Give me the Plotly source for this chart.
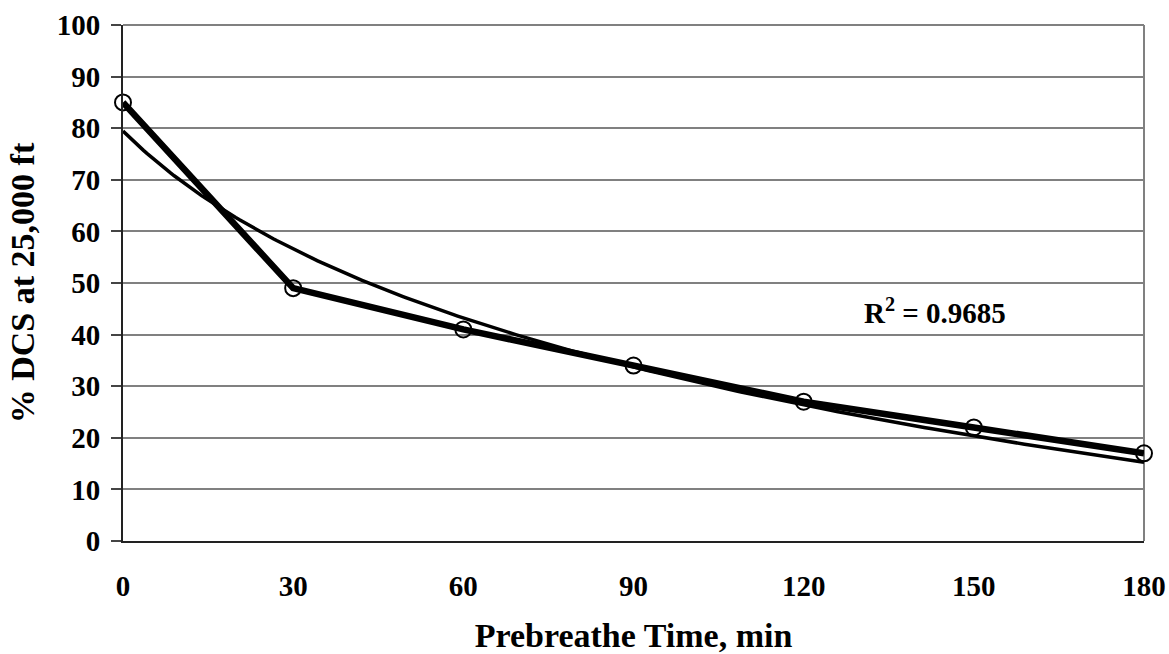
import numpy as np
import plotly.graph_objects as go

# Data
prebreathe_min = [0, 30, 60, 90, 120, 150, 180]
dcs_percent = [85, 49, 41, 34, 27, 22, 17]
x_ticks = [0, 30, 60, 90, 120, 150, 180]
y_ticks = [0, 10, 20, 30, 40, 50, 60, 70, 80, 90, 100]
r2_label = "R<sup>2</sup> = 0.9685"

# Excel-style logarithmic trendline on category index (1..n)
idx = np.arange(1, len(dcs_percent) + 1)
b, a = np.polyfit(np.log(idx), np.array(dcs_percent, dtype=float), 1)
t = np.linspace(1, len(dcs_percent), 300)
trend_x = (t - 1) * (prebreathe_min[1] - prebreathe_min[0]) + prebreathe_min[0]
trend_y = a + b * np.log(t)

FONT = "Liberation Serif"

fig = go.Figure()
fig.add_trace(go.Scatter(
    x=prebreathe_min, y=dcs_percent, mode="lines+markers",
    line=dict(color="black", width=6.5),
    marker=dict(symbol="circle-open", size=16, color="black", line=dict(width=2, color="black")),
    showlegend=False, cliponaxis=False,
))
fig.add_trace(go.Scatter(
    x=trend_x, y=trend_y, mode="lines",
    line=dict(color="black", width=3.5),
    showlegend=False, cliponaxis=False,
))

fig.add_annotation(
    x=143.2, y=44.6, xref="x", yref="y", text=r2_label, showarrow=False,
    xanchor="center", yanchor="middle",
    font=dict(family=FONT, size=29, color="black", weight="bold"),
)

fig.update_layout(
    width=1169, height=654,
    margin=dict(l=123, r=25, t=25, b=113),
    paper_bgcolor="white", plot_bgcolor="white",
    font=dict(family=FONT, color="black", weight="bold"),
    xaxis=dict(
        range=[0, 180], tickvals=x_ticks, ticktext=[str(v) for v in x_ticks],
        showgrid=False, zeroline=False, automargin=False,
        showline=True, linecolor="#222222", linewidth=2, mirror=False,
        ticks="", ticklabelstandoff=18,
        tickfont=dict(family=FONT, size=29, color="black", weight="bold"),
        title=dict(text="Prebreathe Time, min", standoff=25,
                   font=dict(family=FONT, size=34, color="black", weight="bold")),
    ),
    yaxis=dict(
        range=[0, 100], tickvals=y_ticks, ticktext=[str(v) for v in y_ticks],
        showgrid=True, gridcolor="#808080", gridwidth=1.5, zeroline=False,
        showline=True, linecolor="#222222", linewidth=2, automargin=False,
        ticks="outside", ticklen=10, tickcolor="#444444", tickwidth=1.5,
        ticklabelstandoff=5,
        tickfont=dict(family=FONT, size=29, color="black", weight="bold"),
        title=dict(text="% DCS at 25,000 ft", standoff=12,
                   font=dict(family=FONT, size=34, color="black", weight="bold")),
    ),
)

# plot area border (gray) on top and right
fig.add_shape(type="line", xref="paper", yref="paper", x0=1, x1=1, y0=0, y1=1,
              line=dict(color="#808080", width=2), layer="below")
fig.add_shape(type="line", xref="paper", yref="paper", x0=0, x1=1, y0=1, y1=1,
              line=dict(color="#808080", width=2), layer="below")

fig.write_html("out.html")
